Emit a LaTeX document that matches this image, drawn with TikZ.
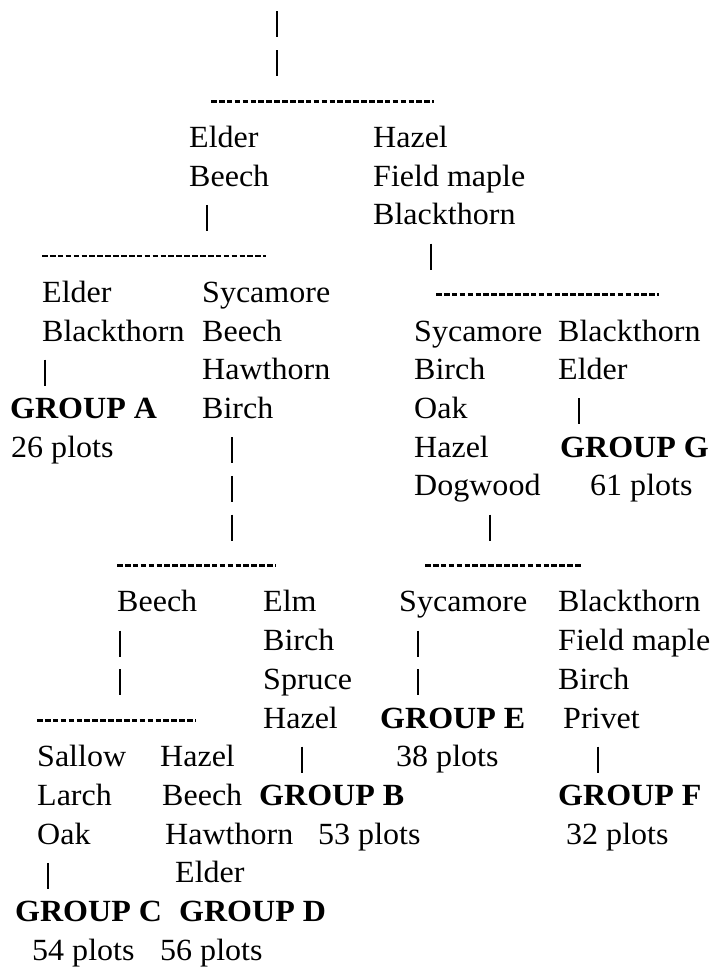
\documentclass[tikz,border=0pt]{standalone}
\usepackage{fontspec}
\setmainfont{Liberation Serif}[FakeStretch=1.04]
\usepackage{tikz}
\tikzset{
  species/.style={anchor=base west, inner sep=0pt, align=left, font=\fontsize{30.8}{38.7}\selectfont},
  group/.style={species, font=\fontsize{30.8}{38.7}\selectfont\bfseries},
  bar/.style={line width=1.6pt},
  cut/.style={line width=2.7pt, dash pattern=on 5.6pt off 2.3pt},
}
% baseline of text row #1 (multi-line nodes sit on their last row)
\newcommand{\rowy}[1]{147.5+38.7*(#1)}
\begin{document}
\begin{tikzpicture}[x=1pt, y=-1pt]
                \useasboundingbox (0,0) rectangle (710,969);

                % first split
                \node[species] (eb)  at (189, {\rowy{1}}) {Elder\\Beech};
                \node[species] (hfb) at (373, {\rowy{2}}) {Hazel\\Field maple\\Blackthorn};

                % left branch
                \node[species] (eblk) at (42, {\rowy{5}})  {Elder\\Blackthorn};
                \node[species] (sbhb) at (202, {\rowy{7}}) {Sycamore\\Beech\\Hawthorn\\Birch};
                \node[group]   (ga)   at (10, {\rowy{7}})  {GROUP A};
                \node[species] (na)   at (11, {\rowy{8}})  {26 plots};

                % right branch
                \node[species] (sbohd) at (414, {\rowy{9}}) {Sycamore\\Birch\\Oak\\Hazel\\Dogwood};
                \node[species] (bele)  at (558, {\rowy{6}}) {Blackthorn\\Elder};
                \node[group]   (gg)    at (560, {\rowy{8}}) {GROUP G};
                \node[species] (ng)    at (590, {\rowy{9}}) {61 plots};

                % lower left
                \node[species] (bch)  at (117, {\rowy{12}}) {Beech};
                \node[species] (ebsh) at (263, {\rowy{15}}) {Elm\\Birch\\Spruce\\Hazel};
                \node[group]   (gb)   at (259, {\rowy{17}}) {GROUP B};
                \node[species] (nb)   at (318, {\rowy{18}}) {53 plots};

                \node[species] (slo)  at (37, {\rowy{18}})  {Sallow\\Larch\\Oak};
                \node[species] (hz)   at (160, {\rowy{16}}) {Hazel};
                \node[species] (bc)   at (162, {\rowy{17}}) {Beech};
                \node[species] (hw)   at (165, {\rowy{18}}) {Hawthorn};
                \node[species] (el)   at (175, {\rowy{19}}) {Elder};
                \node[group]   (gc)   at (15, {\rowy{20}})  {GROUP C};
                \node[species] (nc)   at (32, {\rowy{21}})  {54 plots};
                \node[group]   (gd)   at (179, {\rowy{20}}) {GROUP D};
                \node[species] (nd)   at (160, {\rowy{21}}) {56 plots};

                % lower right
                \node[species] (syc)  at (399, {\rowy{12}}) {Sycamore};
                \node[group]   (ge)   at (380, {\rowy{15}}) {GROUP E};
                \node[species] (ne)   at (396, {\rowy{16}}) {38 plots};
                \node[species] (bfb)  at (558, {\rowy{14}}) {Blackthorn\\Field maple\\Birch};
                \node[species] (pr)   at (563, {\rowy{15}}) {Privet};
                \node[group]   (gf)   at (558, {\rowy{17}}) {GROUP F};
                \node[species] (nf)   at (566, {\rowy{18}}) {32 plots};

                % vertical strokes
                \foreach \x/\k in {277/-3, 277/-2, 207/2, 431/3, 45/6, 579/7, 232/8, 232/9, 232/10, 490/10,
                                   120/13, 120/14, 418/13, 418/14, 302/16, 598/16, 48/19}
                    \draw[bar] (\x, {\rowy{\k}-20}) -- (\x, {\rowy{\k}+6});

                % splits
                \draw[cut] (211, {\rowy{-1}-7.5}) -- (434, {\rowy{-1}-7.5});
                \draw[cut] (42, {\rowy{3}-7.5})   -- (266, {\rowy{3}-7.5});
                \draw[cut] (436, {\rowy{4}-7.5})  -- (659, {\rowy{4}-7.5});
                \draw[cut] (117, {\rowy{11}-7.5}) -- (276, {\rowy{11}-7.5});
                \draw[cut] (425, {\rowy{11}-7.5}) -- (582, {\rowy{11}-7.5});
                \draw[cut] (37, {\rowy{15}-7.5})  -- (196, {\rowy{15}-7.5});
            \end{tikzpicture}
\end{document}
